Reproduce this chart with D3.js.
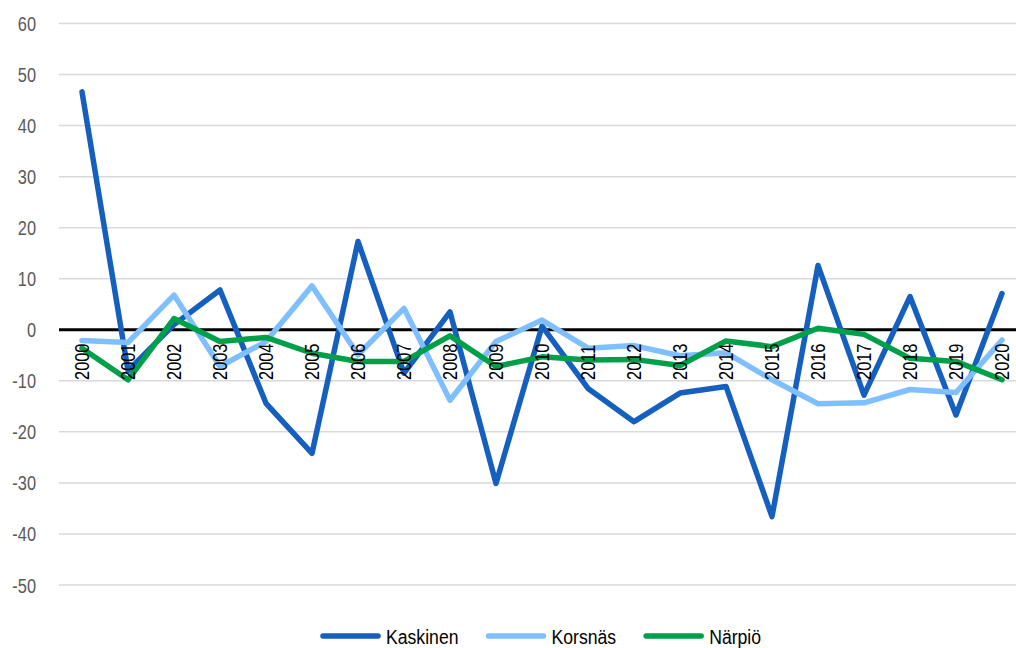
<!DOCTYPE html>
<html>
<head>
<meta charset="utf-8">
<script src="https://cdn.jsdelivr.net/npm/d3@7"></script>
<style>
  html, body { margin: 0; padding: 0; background: #fff; }
  svg { display: block; }
  text { font-family: "Liberation Sans", Arial, sans-serif; }
</style>
</head>
<body>
<svg id="chart" width="1016" height="648"></svg>
<script>
// Years on the category axis
const years = ["2000","2001","2002","2003","2004","2005","2006","2007","2008","2009",
               "2010","2011","2012","2013","2014","2015","2016","2017","2018","2019","2020"];

// Series values per year
const kaskinen = [46.6, -8.0, 1.0, 7.8, -14.4, -24.2, 17.3, -8.5, 3.5, -30.1,
                  0.7, -11.5, -18.0, -12.4, -11.1, -36.6, 12.6, -12.8, 6.5, -16.7, 7.1];
const korsnas  = [-2.1, -2.5, 6.8, -7.2, -2.3, 8.6, -4.9, 4.2, -13.8, -2.3,
                  1.9, -3.6, -3.1, -5.1, -4.5, -9.8, -14.5, -14.3, -11.7, -12.3, -2.0];
const narpio   = [-3.6, -9.8, 2.2, -2.3, -1.5, -4.6, -6.2, -6.2, -1.2, -7.2,
                  -5.3, -5.9, -5.8, -7.0, -2.2, -3.3, 0.3, -0.9, -5.6, -6.2, -9.8];

// Value axis ticks
const yTicks = [60, 50, 40, 30, 20, 10, 0, -10, -20, -30, -40, -50];

const seriesNames = ["Kaskinen", "Korsnäs", "Närpiö"];
const seriesColors = ["#155fbf", "#7fbfff", "#00a04a"];
const seriesValues = [kaskinen, korsnas, narpio];

// Horizontal squeeze that gives the labels a condensed face
const narrow = 0.84;

const svg = d3.select("#chart");

const plotLeft = 59, plotRight = 1025, plotTop = 23.5, plotBottom = 585;

const x = d3.scaleBand().domain(years).range([plotLeft, plotRight]).padding(0);
const y = d3.scaleLinear().domain([-50, 60]).range([plotBottom, plotTop]);
const cx = d => x(d) + x.bandwidth() / 2;

// Horizontal gridlines
svg.append("g")
  .selectAll("line")
  .data(yTicks.filter(t => t !== 0))
  .join("line")
  .attr("x1", plotLeft).attr("x2", plotRight)
  .attr("y1", d => y(d)).attr("y2", d => y(d))
  .attr("stroke", "#d9d9d9").attr("stroke-width", 1.5);

// Value axis labels
const yAxis = d3.axisLeft(y).tickValues(yTicks).tickSize(0).tickPadding(0)
  .tickFormat(d => String(d));
const yg = svg.append("g").attr("transform", `translate(36,0)`).call(yAxis);
yg.select(".domain").remove();
yg.selectAll("text")
  .attr("fill", "#595959")
  .attr("x", 0)
  .style("font-size", "19.5px")
  .attr("dy", "0.36em")
  .attr("transform", `scale(${narrow},1)`);

// Zero baseline
svg.append("line")
  .attr("x1", plotLeft).attr("x2", plotRight)
  .attr("y1", y(0)).attr("y2", y(0))
  .attr("stroke", "#000").attr("stroke-width", 3);

// Series lines
const line = d3.line().x((d, i) => cx(years[i])).y(d => y(d));
svg.append("g")
  .selectAll("path")
  .data(seriesValues)
  .join("path")
  .attr("d", d => line(d))
  .attr("fill", "none")
  .attr("stroke", (d, i) => seriesColors[i])
  .attr("stroke-width", 5.5)
  .attr("stroke-linejoin", "round")
  .attr("stroke-linecap", "round");

// Category labels, rotated, sitting just above the -10 gridline
const xAxis = d3.axisBottom(x).tickSize(0).tickPadding(0);
const xg = svg.append("g").attr("transform", `translate(0,${y(-10)})`).call(xAxis);
xg.select(".domain").remove();
xg.selectAll("text")
  .attr("fill", "#000")
  .style("font-size", "19.5px")
  .attr("text-anchor", "start")
  .attr("transform", `rotate(-90) scale(${narrow},1)`)
  .attr("x", 1)
  .attr("y", 0)
  .attr("dy", "0.36em");

// Legend
const legendX = 323, legendY = 636;
const lg = svg.append("g");
const items = lg.selectAll("g").data(seriesNames).join("g");
items.append("line")
  .attr("x1", 0).attr("x2", 55).attr("y1", 0).attr("y2", 0)
  .attr("stroke", (d, i) => seriesColors[i])
  .attr("stroke-width", 5.5).attr("stroke-linecap", "round");
items.append("text")
  .attr("transform", `translate(63,0) scale(${narrow},1)`)
  .attr("dy", "0.36em")
  .attr("fill", "#000")
  .style("font-size", "21px")
  .text(d => d);
const gap = 30;
const widths = [];
items.each(function () {
  widths.push(63 + this.querySelector("text").getComputedTextLength() * narrow);
});
let cursor = 0;
items.attr("transform", (d, i) => {
  const t = `translate(${legendX + cursor},${legendY})`;
  cursor += widths[i] + gap;
  return t;
});
</script>
</body>
</html>
